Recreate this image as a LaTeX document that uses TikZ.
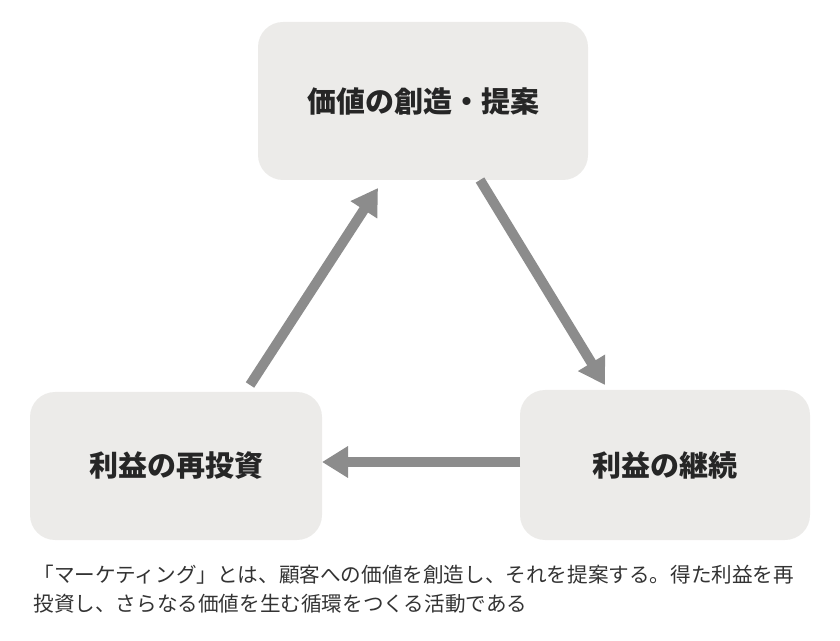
\documentclass[tikz,border=0pt]{standalone}
\usepackage{fontspec}
\newfontfamily\cjk{Noto Sans CJK JP}
\usetikzlibrary{positioning,arrows.meta}
\definecolor{boxgray}{HTML}{ECEBE9}
\definecolor{arrowgray}{HTML}{8C8C8C}
\tikzset{
  stagebox/.style={rectangle, rounded corners=25pt, fill=boxgray, minimum width=300pt, minimum height=152pt, font=\cjk\bfseries\fontsize{29pt}{32pt}\selectfont, text=black!85},
  flow/.style={-{Triangle[length=26pt,width=30pt]}, line width=10pt, draw=arrowgray}
}
\begin{document}
\begin{tikzpicture}[x=1pt,y=1pt]
    \useasboundingbox (0,0) rectangle (840,640);
    % Stages of the cycle
    \node[stagebox, minimum width=330pt, minimum height=158pt] (create) at (423,539) {価値の創造・提案};
    \node[stagebox, minimum width=292pt, minimum height=148pt] (reinvest) at (176,174) {利益の再投資};
    \node[stagebox, minimum width=290pt, minimum height=150pt] (profit) at (665,175) {利益の継続};

    % Arrow ends
    \coordinate (a1) at (250,255);
    \coordinate (a2) at (378,452);
    \coordinate (b1) at (480,460);
    \coordinate (b2) at (605,255);
    \coordinate (c1) at (520,178);
    \coordinate (c2) at (322,178);

    % Connections
    \draw[flow] (a1) -- (a2);
    \draw[flow] (b1) -- (b2);
    \draw[flow] (c1) -- (c2);

    % Caption
    \node[anchor=north west, align=left, font=\cjk\fontsize{20.6pt}{29pt}\selectfont, text=black!80] (caption) at (30,78)
        {「マーケティング」とは、顧客への価値を創造し、それを提案する。得た利益を再\\投資し、さらなる価値を生む循環をつくる活動である};
\end{tikzpicture}
\end{document}
